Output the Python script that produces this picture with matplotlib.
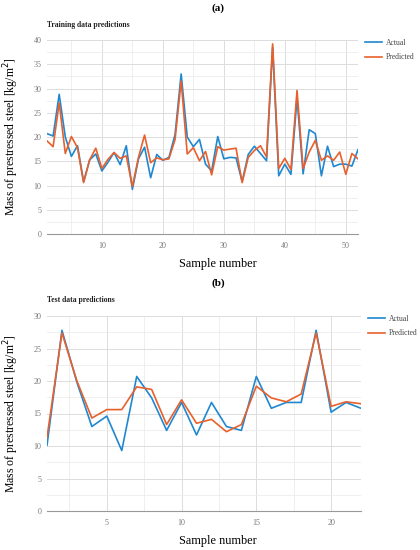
import matplotlib
matplotlib.use('Agg')
import matplotlib.pyplot as plt
from matplotlib.ticker import MultipleLocator

# training data (52 samples)
train_actual = [20.7, 20.2, 28.8, 20.0, 16.0, 18.2, 10.8, 15.3, 16.5, 13.0,
                14.8, 16.8, 14.3, 18.2, 9.2, 15.5, 17.9, 11.6, 16.4, 15.2,
                15.8, 20.5, 33.0, 20.0, 18.0, 19.5, 14.4, 13.0, 20.1, 15.5,
                15.8, 15.7, 10.8, 16.4, 18.1, 16.6, 15.1, 38.5, 12.0, 14.4,
                12.3, 28.0, 12.4, 21.5, 20.7, 12.0, 18.1, 13.9, 14.4, 14.4,
                14.0, 17.4]
train_pred = [19.2, 18.0, 27.0, 16.6, 20.1, 17.8, 10.6, 15.3, 17.7, 13.5,
              15.4, 16.8, 15.6, 16.1, 9.8, 15.8, 20.4, 14.7, 15.7, 15.3,
              15.5, 19.5, 31.5, 16.5, 17.8, 15.1, 17.0, 12.2, 18.0, 17.3,
              17.5, 17.7, 10.6, 15.8, 17.2, 18.2, 15.9, 39.2, 13.5, 15.6,
              13.3, 29.6, 13.5, 16.9, 19.3, 15.2, 16.1, 15.2, 16.9, 12.3,
              16.6, 15.5]

# test data (22 samples)
test_actual = [10.1, 27.8, 19.8, 13.0, 14.6, 9.3, 20.7, 17.4, 12.4, 16.7,
               11.7, 16.7, 13.0, 12.4, 20.7, 15.8, 16.7, 16.7, 27.8, 15.2,
               16.7, 15.8]
test_pred = [11.3, 27.4, 20.0, 14.3, 15.6, 15.6, 19.1, 18.7, 13.3, 17.1,
             13.5, 14.1, 12.2, 13.3, 19.2, 17.4, 16.8, 18.0, 27.4, 16.1,
             16.8, 16.5]

blue = '#1f88d0'
orange = '#e8602c'
serif = ['Liberation Serif', 'DejaVu Serif']

W, H = 420, 550
fig = plt.figure(figsize=(W / 100, H / 100), dpi=100)


def px_axes(left, top, right, bottom):
    return fig.add_axes([left / W, 1 - bottom / H, (right - left) / W, (bottom - top) / H])


def draw_panel(ax, box, actual, pred, ymax, xmajor, xminor, title, tag, tag_y, title_y, xlab_y):
    left, top, right, bottom = box
    xs = list(range(1, len(actual) + 1))
    ax.plot(xs, actual, color=blue, linewidth=1.2, label='Actual')
    ax.plot(xs, pred, color=orange, linewidth=1.2, label='Predicted')
    ax.set_xlim(1, len(actual))
    ax.set_ylim(0, ymax)
    ax.xaxis.set_major_locator(MultipleLocator(xmajor))
    ax.xaxis.set_minor_locator(MultipleLocator(xminor))
    ax.yaxis.set_major_locator(MultipleLocator(5))
    ax.yaxis.set_minor_locator(MultipleLocator(2.5))
    ax.grid(which='major', color='#dcdcdc', linewidth=0.7)
    ax.grid(which='minor', color='#ececec', linewidth=0.6)
    ax.set_axisbelow(True)
    for s in ['top', 'right', 'left']:
        ax.spines[s].set_visible(False)
    ax.spines['bottom'].set_color('#999999')
    ax.spines['bottom'].set_linewidth(0.8)
    ax.tick_params(which='both', length=0, labelsize=5.8, labelcolor='#777777')
    ax.tick_params(axis='y', pad=4)
    ax.tick_params(axis='x', pad=6)
    for lab in ax.get_xticklabels() + ax.get_yticklabels():
        lab.set_family(serif)
    ax.set_xlabel('Sample number', family=serif, fontsize=8.8, va='center')
    ax.xaxis.set_label_coords(0.5 + (218 - (left + right) / 2) / (right - left),
                              -(xlab_y - bottom) / (bottom - top))
    ax.set_ylabel('Mass of prestressed steel [kg/m$^2$]', family=serif, fontsize=8.5,
                  va='center')
    ax.yaxis.set_label_coords(-(left - 11) / (right - left), 0.5)
    leg = ax.legend(loc='upper left', bbox_to_anchor=(1.0, 1.04), frameon=False,
                    prop={'family': serif, 'size': 5.5}, handlelength=2.2,
                    handletextpad=0.5, labelspacing=0.8)
    for t in leg.get_texts():
        t.set_color('#444444')
    fig.text(218 / W, 1 - tag_y / H, tag, family=serif, fontsize=8, fontweight='bold',
             ha='center', va='center')
    fig.text(47 / W, 1 - title_y / H, title, family=serif, fontsize=5.5, fontweight='bold',
             ha='left', va='center', color='#222222')


box1 = (47, 40, 358, 234)
ax1 = px_axes(*box1)
draw_panel(ax1, box1, train_actual, train_pred, 40, 10, 5,
           'Training data predictions', '(a)', 8, 25, 264)

box2 = (47, 316, 361, 511)
ax2 = px_axes(*box2)
draw_panel(ax2, box2, test_actual, test_pred, 30, 5, 2.5,
           'Test data predictions', '(b)', 283, 300, 541)

fig.savefig('out.png', dpi=100)
